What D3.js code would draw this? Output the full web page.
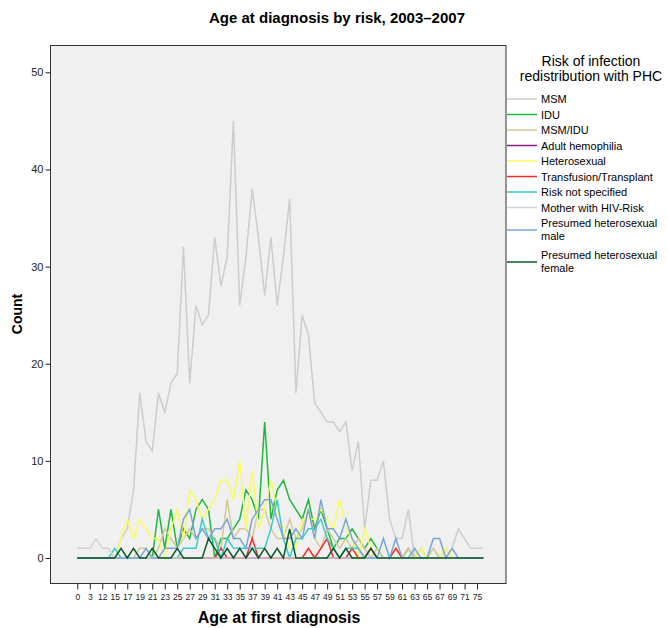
<!DOCTYPE html>
<html><head><meta charset="utf-8">
<script src="https://cdn.jsdelivr.net/npm/d3@7"></script>
<style>
html,body{margin:0;padding:0;background:#fff;}
svg{display:block;font-family:"Liberation Sans",Arial,sans-serif;}
</style></head>
<body>
<svg id="chart" width="667" height="628"></svg>
<script>
// ---- data ----
const ages = [0,2,3,10,12,14,15,16,17,18,19,20,21,22,23,24,25,26,27,28,29,30,31,32,33,34,35,36,37,38,39,40,41,42,43,44,45,46,47,48,49,50,51,52,53,54,55,56,57,58,59,60,61,62,63,64,65,66,67,68,69,70,71,73,75,79];
const tickAges = [0,3,12,15,17,19,21,23,25,27,29,31,33,35,37,39,41,43,45,47,49,51,53,55,57,59,61,63,65,67,69,71,75];
const yTicks = [0,10,20,30,40,50];
const seriesNames = ["MSM","IDU","MSM/IDU","Adult hemophilia","Heterosexual","Transfusion/Transplant","Risk not specified","Mother with HIV-Risk","Presumed heterosexual male","Presumed heterosexual female"];
const seriesColors = ["#cdcdcd","#1fb83c","#d3c996","#8a1c86","#fbfb5c","#f42a2a","#3ccaca","#d2d2d2","#78a6da","#0b5a2a"];

const msm        = [0,0,0,0,0,0,0,2,3,7,17,12,11,17,15,18,19,32,18,26,24,25,33,28,31,45,26,31,38,33,27,33,26,31,37,17,25,23,16,15,14,14,13,14,9,12,3,8,8,10,4,2,2,5,0,1,0,1,0,0,1,3,2,1,1,1];
const idu        = [0,0,0,0,0,0,0,0,0,0,0,0,0,5,1,5,1,3,2,5,6,5,0,2,2,3,4,7,6,4,14,4,7,8,6,5,4,6,3,5,3,1,2,2,3,2,1,2,1,0,0,0,0,1,0,0,0,0,0,0,0,0,0,0,0,0];
const msmIdu     = [0,0,0,0,0,0,0,0,0,0,1,1,0,1,3,2,1,2,3,2,3,3,2,1,6,2,3,3,2,5,5,3,2,2,4,2,3,5,2,1,3,2,1,2,1,2,1,0,1,0,0,1,0,1,0,1,0,1,0,1,0,0,0,0,0,0];
const hemophilia = [0,0,0,0,0,0,0,0,0,0,0,0,0,0,0,0,0,0,0,0,0,0,0,0,0,0,0,0,0,0,0,0,0,0,0,0,0,0,0,0,0,0,0,0,0,0,0,0,0,0,0,0,0,0,0,0,0,0,0,0,0,0,0,0,0,0];
const hetero     = [0,0,0,0,0,0,0,2,4,2,4,3,2,2,0,3,5,2,7,6,4,5,6,8,8,6,10,3,9,3,5,8,5,3,1,1,4,4,4,5,4,3,6,3,2,0,3,1,0,0,0,1,0,0,0,1,0,0,0,1,0,0,0,0,0,0];
const transfusion= [0,0,0,0,0,0,0,0,0,0,0,0,0,0,0,0,0,0,0,0,0,0,0,1,0,0,0,0,2,0,0,0,0,0,0,0,0,1,0,1,2,0,0,0,1,0,0,1,0,0,0,1,0,0,0,0,0,0,0,0,0,0,0,0,0,0];
const notSpec    = [0,0,0,0,0,0,1,0,0,0,0,0,0,0,0,0,0,1,1,1,4,2,2,0,2,1,1,1,1,1,1,3,6,2,0,2,2,3,3,4,2,1,0,1,1,1,0,0,0,0,0,0,0,0,0,0,0,0,0,0,0,0,0,0,0,0];
const mother     = [1,1,1,2,1,1,0,0,0,0,0,0,0,0,0,0,0,0,0,0,0,0,0,0,0,0,0,0,0,0,0,0,0,0,0,0,0,0,0,0,0,0,0,0,0,0,0,0,0,0,0,0,0,0,0,0,0,0,0,0,0,0,0,0,0,0];
const presMale   = [0,0,0,0,0,0,0,0,0,0,0,1,0,0,1,1,1,4,5,2,3,2,3,3,4,2,2,1,4,5,6,6,4,2,2,3,2,5,2,6,3,3,2,4,2,1,0,0,0,2,0,2,0,0,1,0,0,2,2,0,1,0,0,0,0,0];
const presFemale = [0,0,0,0,0,0,0,1,0,1,0,0,1,0,0,0,1,0,0,0,0,2,1,0,1,0,1,0,1,0,1,0,1,0,3,0,0,0,0,0,0,1,0,1,0,0,0,1,0,0,0,0,0,0,0,0,0,0,0,0,0,0,0,0,0,0];

const seriesValues = [msm,idu,msmIdu,hemophilia,hetero,transfusion,notSpec,mother,presMale,presFemale];

// ---- layout ----
const svg = d3.select("#chart");
const plot = {left:50.5, top:45.5, right:506, bottom:583.5};

svg.append("rect").attr("x",plot.left).attr("y",plot.top)
  .attr("width",plot.right-plot.left).attr("height",plot.bottom-plot.top)
  .attr("fill","#f0f0f0").attr("stroke","#333").attr("stroke-width",1);

const x = d3.scalePoint().domain(ages).range([77.3,483.3]);
const y = d3.scaleLinear().domain([0,50]).range([558,72.3]);

// lines
const line = d3.line().x((d,i)=>x(ages[i])).y(d=>y(d));
seriesValues.forEach((vals,k)=>{
  svg.append("path").datum(vals).attr("d",line)
    .attr("fill","none").attr("stroke",seriesColors[k]).attr("stroke-width",1.5)
    .attr("stroke-linejoin","miter");
});

// axes
const xAxis = d3.axisBottom(x).tickValues(tickAges).tickSize(6).tickPadding(4);
const gx = svg.append("g").attr("transform",`translate(0,${plot.bottom})`).call(xAxis);
gx.select(".domain").remove();
gx.selectAll("line").attr("stroke","#222");
gx.selectAll("text").attr("font-size","8.5px").attr("fill","#222").attr("font-family","Liberation Sans, Arial, sans-serif");

const yAxis = d3.axisLeft(y).tickValues(yTicks).tickSize(5).tickPadding(2);
const gy = svg.append("g").attr("transform",`translate(${plot.left},0)`).call(yAxis);
gy.select(".domain").remove();
gy.selectAll("line").attr("stroke","#222");
gy.selectAll("text").attr("font-size","11px").attr("fill","#222").attr("font-family","Liberation Sans, Arial, sans-serif");

// titles
svg.append("text").attr("x",337).attr("y",23).attr("text-anchor","middle")
  .attr("font-size","15px").attr("font-weight","bold").attr("fill","#000")
  .text("Age at diagnosis by risk, 2003–2007");
svg.append("text").attr("x",279).attr("y",623).attr("text-anchor","middle")
  .attr("font-size","16px").attr("font-weight","bold").attr("fill","#000")
  .text("Age at first diagnosis");
svg.append("text").attr("transform","translate(22,314) rotate(-90)").attr("text-anchor","middle")
  .attr("font-size","14px").attr("font-weight","bold").attr("fill","#000")
  .text("Count");

// legend
const lg = svg.append("g");
lg.append("text").attr("x",591).attr("y",66).attr("text-anchor","middle").attr("font-size","14px").attr("fill","#000").text("Risk of infection");
lg.append("text").attr("x",591).attr("y",81).attr("text-anchor","middle").attr("font-size","14px").attr("fill","#000").text("redistribution with PHC");
const rowY = [99,114.5,130,145.5,161,176.5,192,207.5,230,262];
const labelLines = seriesNames.map(n=>{
  if(n==="Presumed heterosexual male") return ["Presumed heterosexual","male"];
  if(n==="Presumed heterosexual female") return ["Presumed heterosexual","female"];
  return [n];
});
seriesNames.forEach((n,k)=>{
  const cy = rowY[k];
  lg.append("line").attr("x1",507).attr("x2",537).attr("y1",cy).attr("y2",cy)
    .attr("stroke",seriesColors[k]).attr("stroke-width",1.5);
  const L = labelLines[k];
  const t = lg.append("text").attr("x",541).attr("font-size","11px").attr("fill","#000");
  if(L.length===1){ t.attr("y",cy+4).text(L[0]); }
  else {
    t.append("tspan").attr("x",541).attr("y",cy-3).text(L[0]);
    t.append("tspan").attr("x",541).attr("y",cy+9.5).text(L[1]);
  }
});
</script>
</body></html>
